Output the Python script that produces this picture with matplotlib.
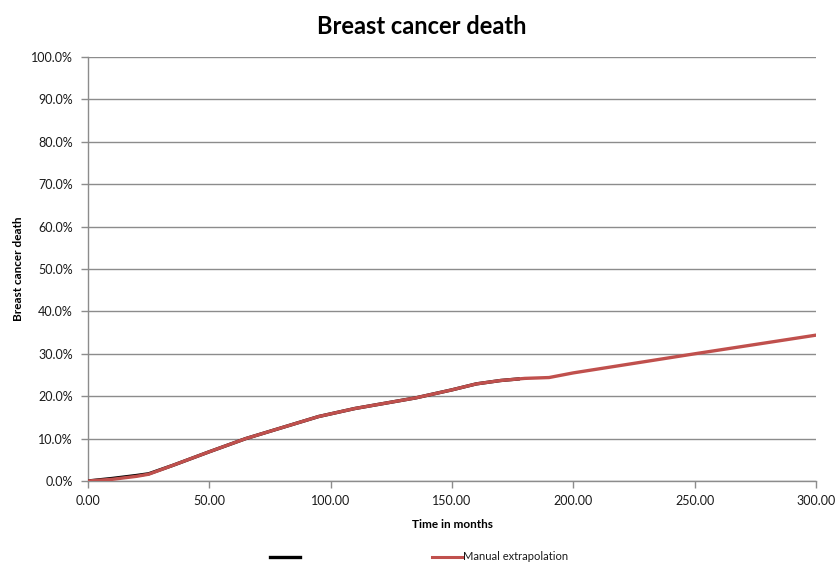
import matplotlib
matplotlib.use("Agg")
import matplotlib.pyplot as plt
from matplotlib.ticker import FuncFormatter, MultipleLocator
from matplotlib.lines import Line2D

plt.rcParams['font.family'] = ['Lato', 'DejaVu Sans']

# Data (percent)
t_red = [0, 10, 20, 25, 35, 50, 65, 80, 95, 110, 120, 135, 150, 160, 170, 180, 190, 200, 250, 300]
red_vals = [0, 0.4, 1.1, 1.6, 3.7, 6.9, 10.0, 12.6, 15.2, 17.1, 18.1, 19.6, 21.5, 22.9, 23.7, 24.2, 24.4, 25.5, 30.0, 34.4]
t_black = [0, 10, 20, 25, 35, 50, 65, 80, 95, 110, 120, 135, 150, 160, 170, 178]
black_vals = [0, 0.6, 1.3, 1.7, 3.7, 6.9, 10.0, 12.6, 15.2, 17.1, 18.1, 19.6, 21.5, 22.9, 23.7, 24.1]

red_label = "Manual extrapolation"
black_label = ""

fig = plt.figure(figsize=(8.36, 5.63), dpi=100)
ax = fig.add_axes([88/836, 1-481/563, (816-88)/836, (481-57)/563])

ax.plot(t_black, black_vals, color='black', lw=2.4, solid_capstyle='butt', zorder=3)
ax.plot(t_red, red_vals, color='#c0504d', lw=2.4, solid_capstyle='round', zorder=4)

ax.set_xlim(0, 300)
ax.set_ylim(0, 100)
ax.xaxis.set_major_locator(MultipleLocator(50))
ax.yaxis.set_major_locator(MultipleLocator(10))
ax.xaxis.set_major_formatter(FuncFormatter(lambda v, p: f"{v:.2f}"))
ax.yaxis.set_major_formatter(FuncFormatter(lambda v, p: f"{v:.1f}%"))
ax.grid(axis='y', color='#8c8c8c', lw=1.0)
ax.set_axisbelow(True)
for s in ['top', 'right']:
    ax.spines[s].set_visible(False)
for s in ['left', 'bottom']:
    ax.spines[s].set_color('#8c8c8c')
    ax.spines[s].set_linewidth(1.0)
ax.tick_params(axis='both', colors='#8c8c8c', labelcolor='#1a1a1a', length=5, width=1.0, labelsize=9)
ax.tick_params(axis='y', pad=6)
ax.tick_params(axis='x', pad=5)

ax.set_xlabel("Time in months", fontsize=8.5, fontweight='bold', labelpad=9)
ax.set_ylabel("Breast cancer death", fontsize=8.5, fontweight='bold', labelpad=5)
fig.text(0.504, 1-27/563, "Breast cancer death", ha='center', va='center', fontsize=17, fontweight='bold')

# Legend (manual placement near bottom)
fig.lines.append(Line2D([270/836, 300/836], [1-557/563, 1-557/563], color='black', lw=2.4, transform=fig.transFigure))
fig.lines.append(Line2D([432/836, 462/836], [1-557/563, 1-557/563], color='#c0504d', lw=2.2, transform=fig.transFigure))
fig.text(463/836, 1-557/563, red_label, ha='left', va='center', fontsize=8, color='#1a1a1a')

fig.savefig("out.png", dpi=100)
